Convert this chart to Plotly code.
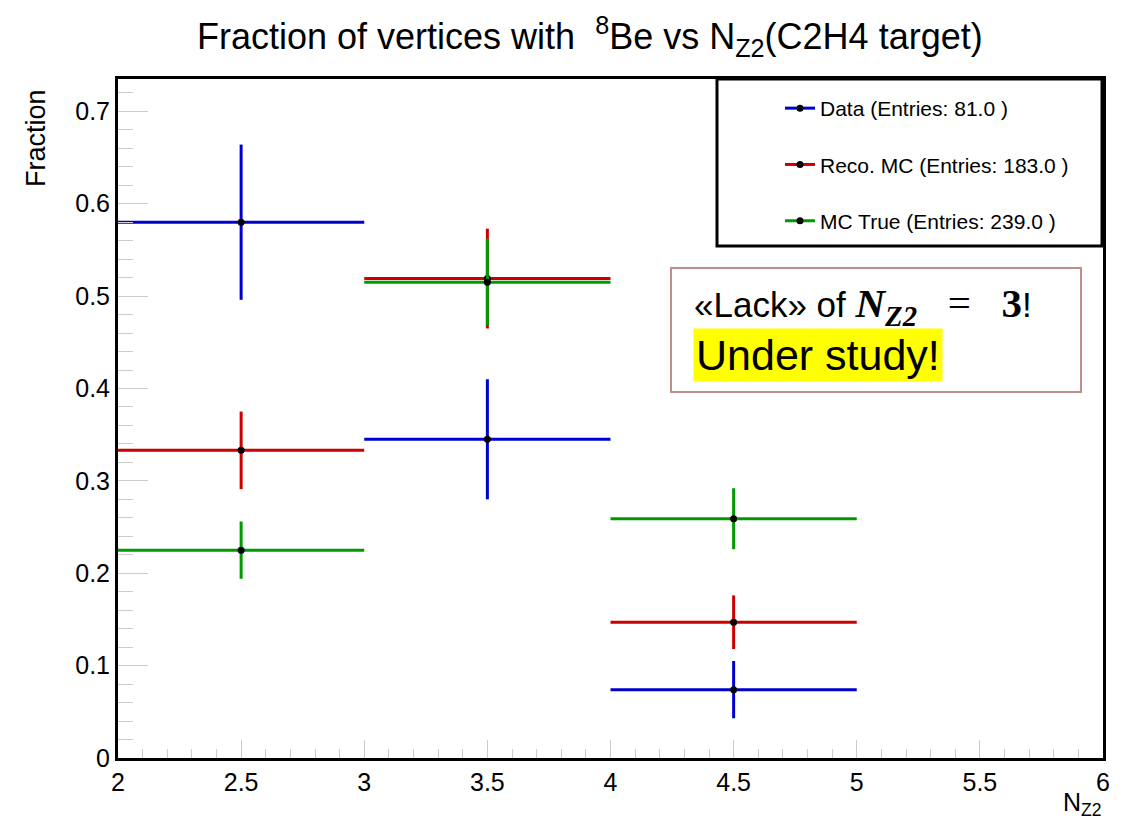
import plotly.graph_objects as go

# ---- data ----
bin_centers = [2.5, 3.5, 4.5]
bin_half_width = [0.5, 0.5, 0.5]

data_frac = [0.580, 0.345, 0.074]
data_err = [0.084, 0.065, 0.031]

reco_frac = [0.333, 0.519, 0.147]
reco_err = [0.042, 0.054, 0.029]

true_frac = [0.225, 0.515, 0.259]
true_err = [0.031, 0.047, 0.033]

series_names = ["Data (Entries: 81.0 )", "Reco. MC (Entries: 183.0 )", "MC True (Entries: 239.0 )"]
series_colors = ["#0000cc", "#cc0000", "#009900"]
series_vals = [data_frac, reco_frac, true_frac]
series_errs = [data_err, reco_err, true_err]

FONT = "Liberation Sans, Arial, sans-serif"

fig = go.Figure()
for name, col, vals, errs in zip(series_names, series_colors, series_vals, series_errs):
    fig.add_trace(go.Scatter(
        x=bin_centers, y=vals, mode="markers", showlegend=False,
        marker=dict(color="black", size=7),
        error_y=dict(type="data", array=errs, visible=True, color=col, thickness=3, width=0),
        error_x=dict(type="data", array=bin_half_width, visible=True, color=col, thickness=3, width=0),
        legendgroup=name,
    ))
# legend entries
for name, col in zip(series_names, series_colors):
    fig.add_trace(go.Scatter(
        x=[None], y=[None], mode="lines+markers", name=name, legendgroup=name,
        line=dict(color=col, width=3), marker=dict(color="black", size=7),
    ))

L, R, T, B = 118, 27, 79, 62
W, H = 1130, 820
pw, ph = W - L - R, H - T - B

def px(x):
    return (x - L) / pw

def py(y):
    return (H - B - y) / ph

tickc = "#cccccc"
fig.update_xaxes(
    range=[2, 6], dtick=0.5, tick0=2, showgrid=False, zeroline=False,
    showline=True, linecolor="black", linewidth=3, mirror=True,
    ticks="inside", ticklen=18, tickcolor=tickc, tickwidth=1,
    minor=dict(dtick=0.1, ticks="inside", ticklen=9, tickcolor=tickc, tickwidth=1, showgrid=False),
    tickfont=dict(family=FONT, size=25, color="black"),
)
fig.update_yaxes(
    range=[0, 0.735], dtick=0.1, tick0=0, showgrid=False, zeroline=False,
    showline=True, linecolor="black", linewidth=3, mirror=True,
    ticks="inside", ticklen=30, tickcolor=tickc, tickwidth=1,
    minor=dict(dtick=0.02, ticks="inside", ticklen=15, tickcolor=tickc, tickwidth=1, showgrid=False),
    tickfont=dict(family=FONT, size=25, color="black"),
)

shapes = [
    # legend frame
    dict(type="rect", xref="paper", yref="paper", x0=px(717), x1=px(1102), y0=py(246), y1=py(79),
         line=dict(color="black", width=3), fillcolor="white", layer="above"),
    # note frame
    dict(type="rect", xref="paper", yref="paper", x0=px(671), x1=px(1081), y0=py(392), y1=py(268),
         line=dict(color="#bf8f8a", width=2), fillcolor="white", layer="above"),
]

math = ("<span style='font-family:Liberation Serif, DejaVu Serif, serif; font-size:41px'>"
        "<b><i>N</i><sub><i>Z2</i></sub></b>&nbsp;&nbsp;&nbsp;=&nbsp;&nbsp;&nbsp;<b>3</b></span>")

annotations = [
    dict(text="Fraction of vertices with  <sup>8</sup>Be vs N<sub>Z2</sub>(C2H4 target)",
         xref="paper", yref="paper", x=px(590), y=py(36), showarrow=False,
         font=dict(family=FONT, size=36, color="black"), xanchor="center", yanchor="middle"),
    dict(text="Fraction", xref="paper", yref="paper", x=px(36), y=py(87), textangle=-90,
         showarrow=False, xanchor="center", yanchor="top",
         font=dict(family=FONT, size=27, color="black")),
    dict(text="N<sub>Z2</sub>", xref="paper", yref="paper", x=px(1104), y=py(786),
         showarrow=False, xanchor="right", yanchor="top",
         font=dict(family=FONT, size=25, color="black")),
    dict(text="«Lack» of " + math + "!", xref="paper", yref="paper",
         x=px(692), y=py(306), showarrow=False, xanchor="left", yanchor="middle",
         font=dict(family=FONT, size=35, color="black")),
    dict(text="Under study!", xref="paper", yref="paper",
         x=px(693), y=py(355), showarrow=False, xanchor="left", yanchor="middle",
         bgcolor="#ffff00", borderpad=2,
         font=dict(family=FONT, size=43, color="black")),
]

fig.update_layout(
    width=W, height=H,
    margin=dict(l=L, r=R, t=T, b=B),
    paper_bgcolor="white", plot_bgcolor="white",
    shapes=shapes, annotations=annotations,
    showlegend=True,
    legend=dict(x=px(780), y=py(88), xanchor="left", yanchor="top",
                bgcolor="rgba(0,0,0,0)", borderwidth=0,
                font=dict(family=FONT, size=21, color="black"),
                tracegroupgap=26, itemwidth=30),
)

fig.write_html("out.html")
